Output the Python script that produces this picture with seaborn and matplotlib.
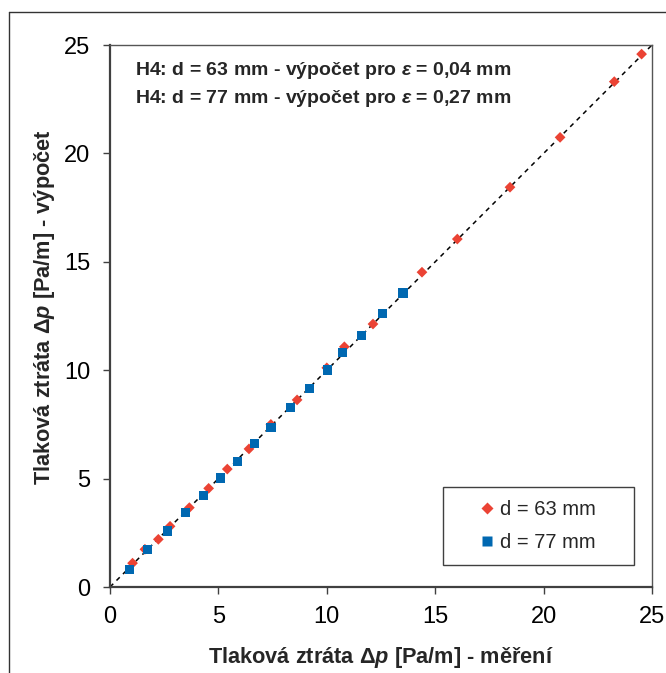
import matplotlib
matplotlib.use("Agg")
import matplotlib.pyplot as plt
import seaborn as sns
import pandas as pd
from matplotlib.lines import Line2D
from matplotlib.patches import Rectangle

# ---- data ----
series_labels = ["d = 63 mm", "d = 77 mm"]
d63_meas = [1.04, 1.61, 2.23, 2.77, 3.66, 4.55, 5.41, 6.41, 7.42, 8.63, 10.00, 10.81, 12.13, 14.39, 16.02, 18.45, 20.76, 23.26, 24.52]
d63_calc = [1.10, 1.74, 2.20, 2.80, 3.66, 4.55, 5.44, 6.37, 7.50, 8.63, 10.11, 11.08, 12.13, 14.52, 16.05, 18.44, 20.74, 23.31, 24.58]
d77_meas = [0.89, 1.72, 2.64, 3.47, 4.30, 5.09, 5.87, 6.65, 7.43, 8.31, 9.19, 10.02, 10.71, 11.59, 12.56, 13.51]
d77_calc = [0.82, 1.74, 2.58, 3.44, 4.23, 5.03, 5.80, 6.63, 7.37, 8.29, 9.16, 10.01, 10.80, 11.61, 12.62, 13.56]
ref_line = [0, 25]
ticks = [0, 5, 10, 15, 20, 25]
annot_lines = ["H4: d = 63 mm - výpočet pro $\\varepsilon$ = 0,04 mm",
               "H4: d = 77 mm - výpočet pro $\\varepsilon$ = 0,27 mm"]
xlabel = "Tlaková ztráta Δ$p$ [Pa/m] - měření"
ylabel = "Tlaková ztráta Δ$p$ [Pa/m] - výpočet"

red = "#EB4334"
blue = "#0068B1"

sns.set_theme(style="white")
plt.rcParams["font.family"] = ["Liberation Sans", "DejaVu Sans"]
plt.rcParams["mathtext.fontset"] = "custom"
plt.rcParams["mathtext.it"] = "Liberation Sans:italic:bold"
plt.rcParams["mathtext.rm"] = "Liberation Sans:bold"

fig = plt.figure(figsize=(6.66, 6.73), dpi=100)
ax = fig.add_axes([110/666, 1-587/673, 542/666, 542/673])

df63 = pd.DataFrame({"meas": d63_meas, "calc": d63_calc, "series": series_labels[0]})
df77 = pd.DataFrame({"meas": d77_meas, "calc": d77_calc, "series": series_labels[1]})

sns.lineplot(x=ref_line, y=ref_line, ax=ax, color="black", lw=1.1,
             linestyle=(0, (3, 3)), zorder=1)
sns.scatterplot(data=df63, x="meas", y="calc", ax=ax, marker="D", s=30,
                color=red, edgecolor="none", zorder=2, legend=False)
sns.scatterplot(data=df77, x="meas", y="calc", ax=ax, marker="s", s=44,
                color=blue, edgecolor="none", zorder=3, legend=False)

ax.set_xlim(0, 25)
ax.set_ylim(0, 25)
ax.set_xticks(ticks)
ax.set_yticks(ticks)
ax.tick_params(axis="both", direction="out", length=5, width=1, color="#404040",
               labelsize=17, pad=9, labelcolor="black")
ax.tick_params(axis="both", which="both", bottom=True, left=True)
for side in ["left", "bottom"]:
    ax.spines[side].set_color("#404040")
    ax.spines[side].set_linewidth(1.6)
for side in ["top", "right"]:
    ax.spines[side].set_color("#555555")
    ax.spines[side].set_linewidth(1.0)

ax.set_xlabel(xlabel, fontsize=15.7, fontweight="bold", labelpad=12)
ax.set_ylabel(ylabel, fontsize=15.7, fontweight="bold")
ax.yaxis.set_label_coords(-0.098, 0.5166)

for i, t in enumerate(annot_lines):
    ax.text(25/542, [0.9446, 0.8930][i], t, transform=ax.transAxes,
            fontsize=14, fontweight="bold", va="baseline", ha="left")

handles = [Line2D([], [], marker="D", color=red, ls="none", markersize=6.5, markeredgecolor="none"),
           Line2D([], [], marker="s", color=blue, ls="none", markersize=6.5, markeredgecolor="none")]
leg = ax.legend(handles, series_labels, loc="center", bbox_to_anchor=(0.7906, 0.1125),
                frameon=False, fontsize=14.5, handlelength=0.5, handletextpad=0.4,
                labelspacing=0.7, borderpad=0)
ax.add_patch(Rectangle((333/542, 22/542), 191/542, 78/542, transform=ax.transAxes,
                       fill=False, edgecolor="#404040", lw=1.0, zorder=5))

# outer frame (left and top edges)
fig.add_artist(Line2D([9/666, 9/666], [0, 1-12/673], transform=fig.transFigure, color="#333333", lw=1.0))
fig.add_artist(Line2D([9/666, 1], [1-12/673, 1-12/673], transform=fig.transFigure, color="#333333", lw=1.0))

fig.savefig("out.png", dpi=100)
